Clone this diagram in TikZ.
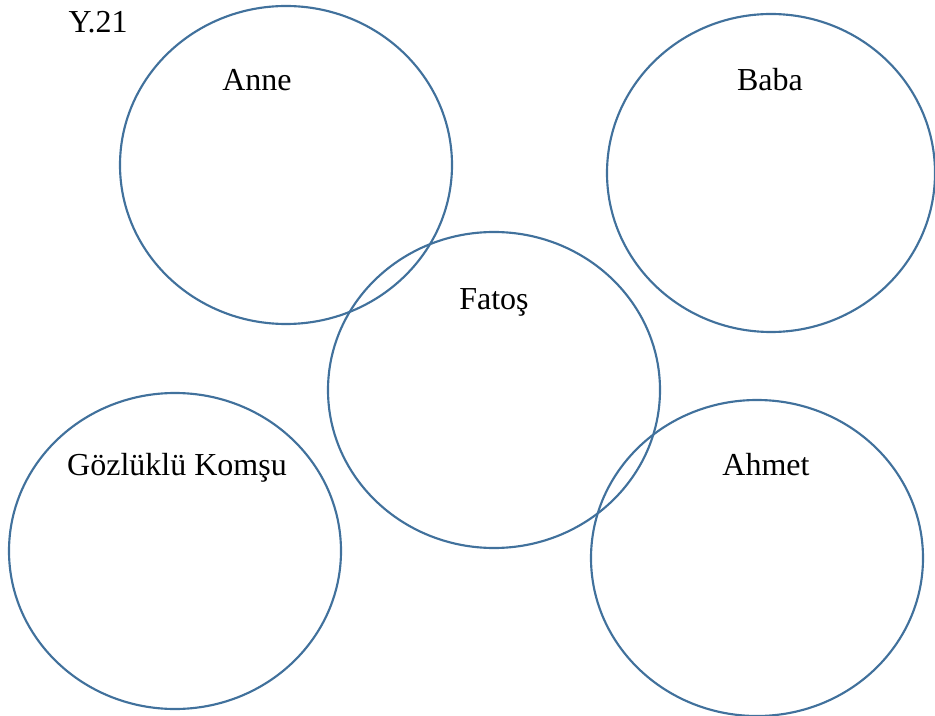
\documentclass[tikz,border=0pt]{standalone}
\usepackage{fontspec}
\setmainfont{Liberation Serif}

\definecolor{ringblue}{RGB}{65,113,156}

\tikzset{
  ring/.style={draw=ringblue, line width=1.6pt},
  name label/.style={anchor=base, inner sep=0pt, font=\fontsize{24}{28}\selectfont}
}

\begin{document}
\begin{tikzpicture}[x=0.75pt, y=-0.75pt]
    \useasboundingbox (0,0) rectangle (935,716);

    % question number
    \node[name label] (qnum) at (98, 33) {Y.21};

    % the five circles
    \draw[ring] (286,165) ellipse [x radius=166, y radius=159];
    \draw[ring] (771,173) ellipse [x radius=164, y radius=159];
    \draw[ring] (494,390) ellipse [x radius=166, y radius=158];
    \draw[ring] (175,551) ellipse [x radius=166, y radius=158];
    \draw[ring] (757,558) ellipse [x radius=166, y radius=158];

    % names inside the circles
    \node[name label] (anne)   at (257, 91)  {Anne};
    \node[name label] (baba)   at (770, 91)  {Baba};
    \node[name label] (fatos)  at (494, 310) {Fatoş};
    \node[name label] (komsu)  at (177, 475) {Gözlüklü Komşu};
    \node[name label] (ahmet)  at (766, 475) {Ahmet};

\end{tikzpicture}
\end{document}
